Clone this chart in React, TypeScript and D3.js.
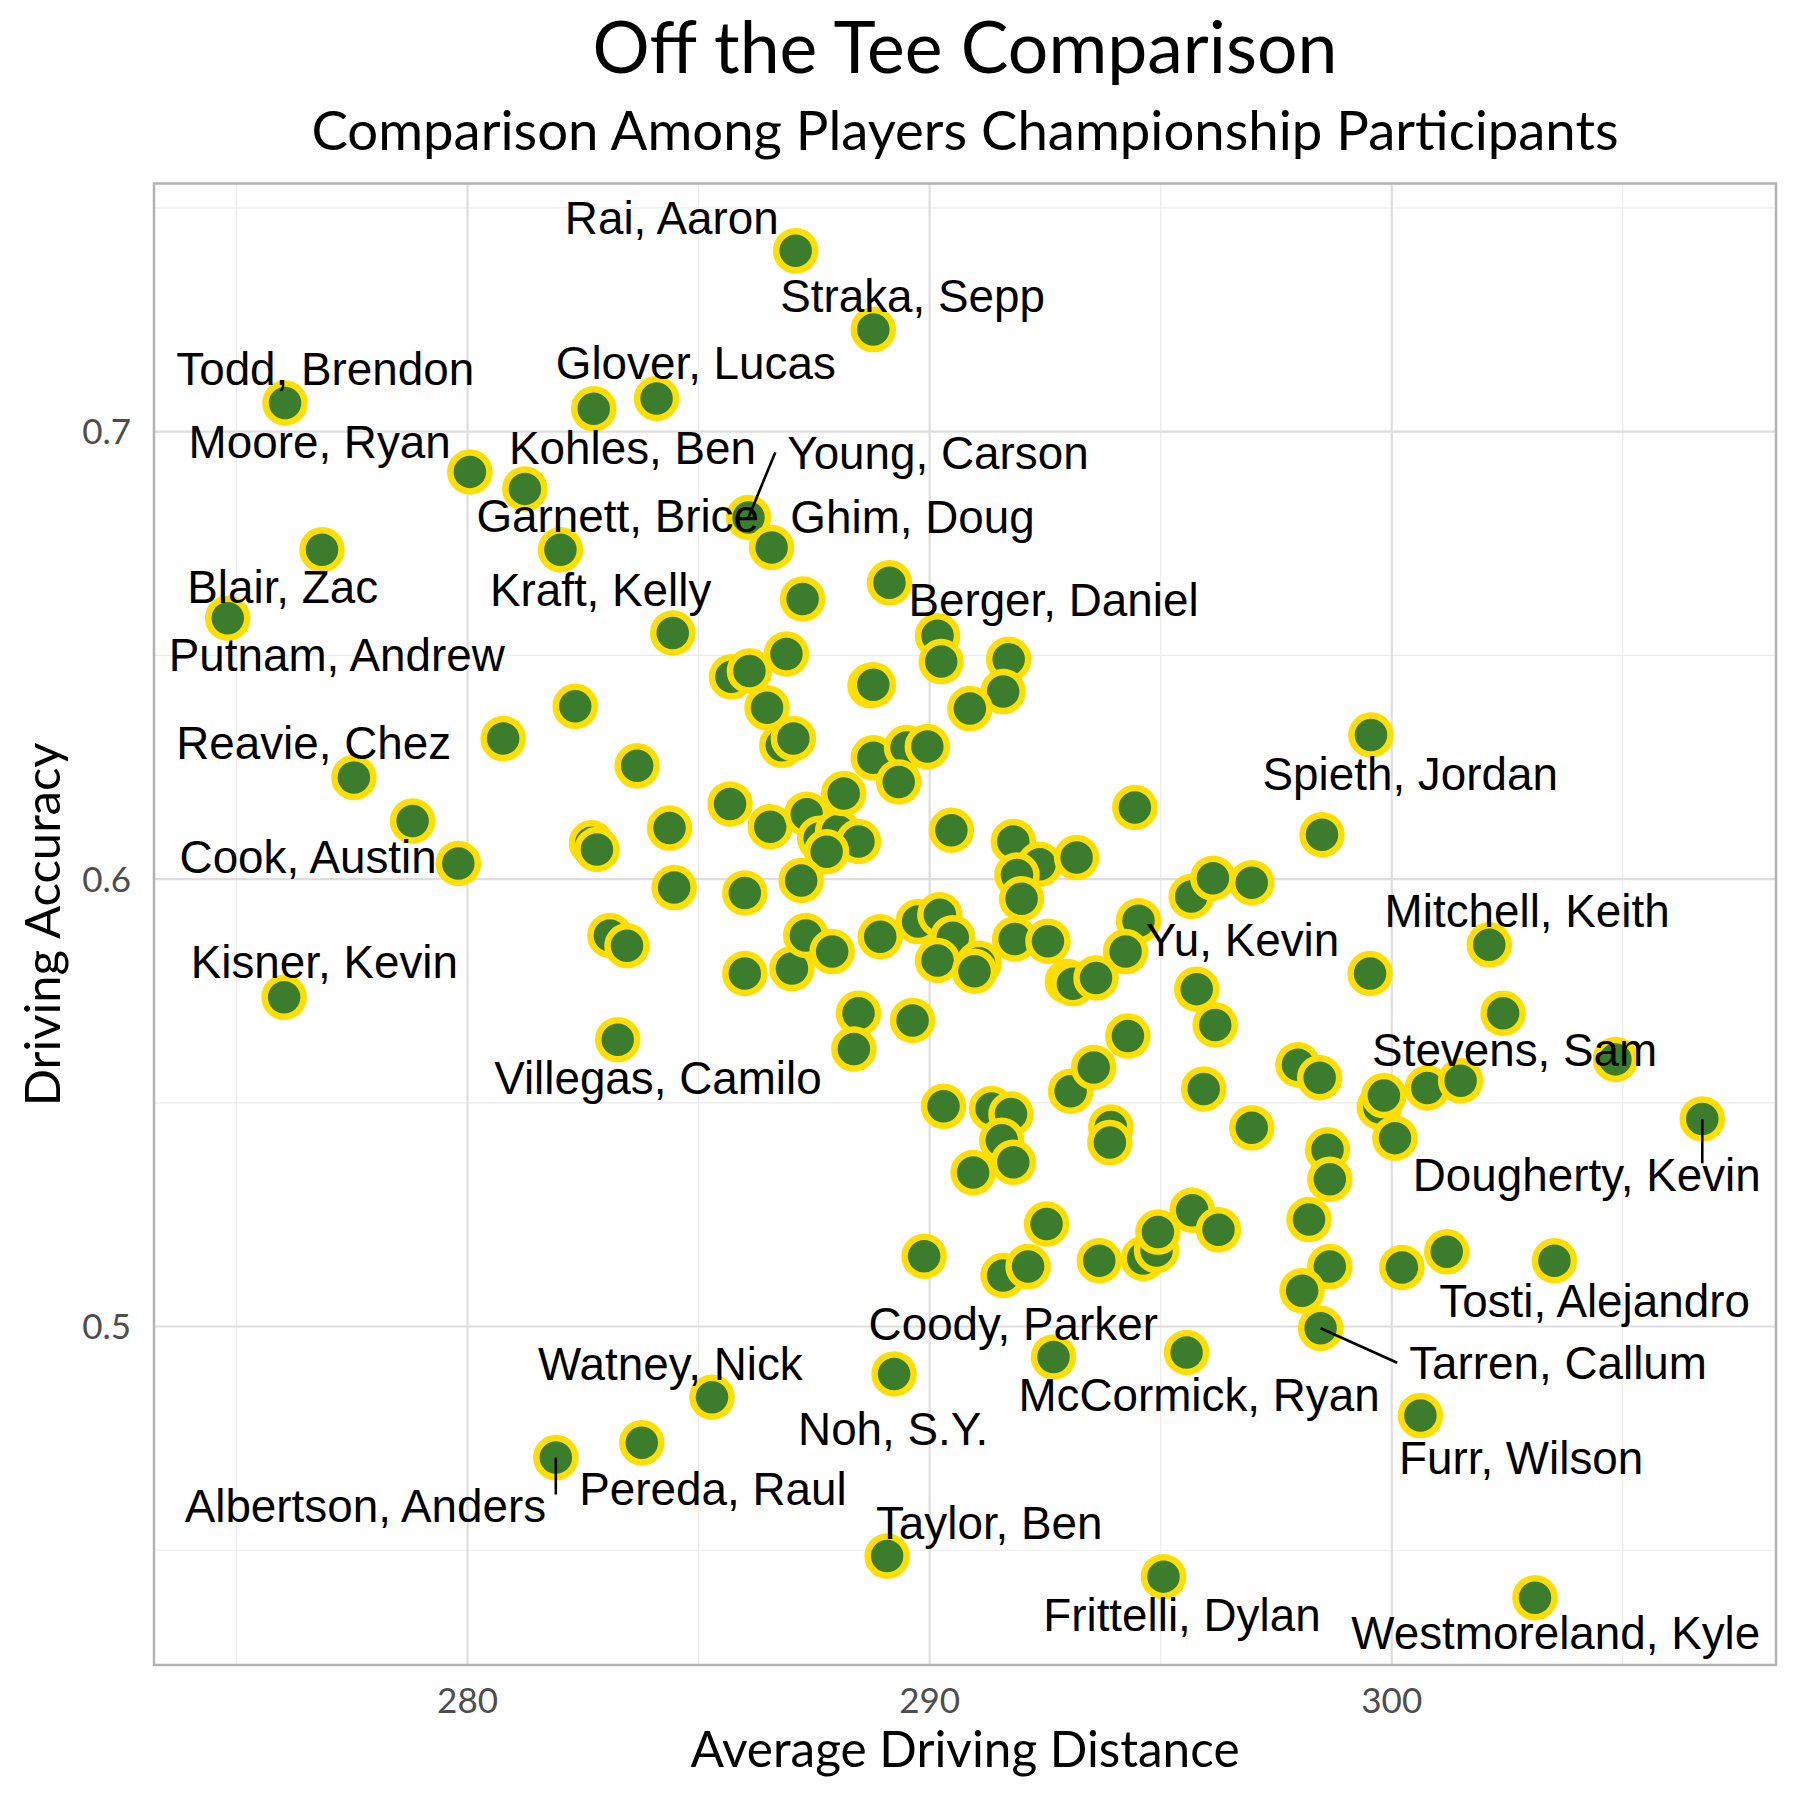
import React from "react";
import * as d3 from "d3";

// ---- data ----
const distance = [
  287.10, 288.78, 276.05, 282.73, 284.09, 280.05, 281.24, 276.85, 282.01, 286.08,
  286.58, 274.81, 284.44, 287.25, 289.13, 290.17, 290.25, 291.71, 291.59, 290.87,
  286.90, 285.71, 286.10, 286.48, 286.80, 287.05, 288.71, 288.78, 282.33, 280.77,
  283.67, 277.54, 278.81, 279.80, 276.03, 282.68, 282.80, 284.37, 284.47, 283.08,
  283.45, 283.25, 285.68, 286.55, 287.34, 287.62, 288.01, 288.46, 287.77, 288.14,
  288.78, 289.50, 289.95, 289.33, 290.47, 286.00, 287.22, 286.00, 287.02, 287.32,
  287.89, 288.93, 289.75, 290.22, 290.50, 290.17, 291.07, 290.97, 288.46, 289.63,
  288.36, 291.81, 292.38, 293.18, 291.89, 291.99, 294.52, 294.24, 291.84, 292.56,
  292.98, 293.10, 293.60, 294.44, 295.66, 296.13, 296.97, 295.78, 296.18, 298.49,
  299.55, 299.53, 302.11, 302.41, 304.84, 306.72, 297.97, 298.44, 299.73, 299.83,
  300.77, 301.49, 300.07, 298.61, 298.66, 298.21, 298.66, 298.06, 298.46, 300.22,
  301.19, 303.52, 300.62, 303.10, 295.06, 289.08, 295.56, 292.68, 289.23, 285.29,
  283.77, 281.91, 289.88, 291.59, 292.13, 292.53, 293.67, 294.62, 294.91, 294.94,
  295.68, 296.25, 290.30, 291.34, 291.76, 291.56, 290.94, 291.81, 293.05, 293.55,
  294.29, 293.92, 293.90, 295.93, 296.97,
];
const accuracy = [
  0.7404, 0.7228, 0.7064, 0.7051, 0.7074, 0.6910, 0.6872, 0.6736, 0.6736, 0.6808,
  0.6741, 0.6583, 0.6550, 0.6626, 0.6662, 0.6544, 0.6486, 0.6491, 0.6419, 0.6381,
  0.6503, 0.6452, 0.6465, 0.6383, 0.6299, 0.6314, 0.6432, 0.6434, 0.6386, 0.6314,
  0.6253, 0.6227, 0.6130, 0.6035, 0.5736, 0.6081, 0.6066, 0.6114, 0.5981, 0.5874,
  0.5851, 0.5641, 0.6168, 0.6117, 0.6145, 0.6091, 0.6107, 0.6084, 0.6061, 0.6191,
  0.6271, 0.6294, 0.6296, 0.6217, 0.6109, 0.5969, 0.5997, 0.5789, 0.5800, 0.5874,
  0.5838, 0.5871, 0.5905, 0.5920, 0.5869, 0.5818, 0.5812, 0.5794, 0.5700, 0.5684,
  0.5620, 0.6084, 0.6033, 0.6048, 0.6009, 0.5956, 0.5907, 0.5838, 0.5866, 0.5861,
  0.5771, 0.5766, 0.5779, 0.6160, 0.5961, 0.6002, 0.5992, 0.5754, 0.5674, 0.6099,
  0.6322, 0.5789, 0.5853, 0.5700, 0.5597, 0.5464, 0.5585, 0.5556, 0.5490, 0.5516,
  0.5533, 0.5549, 0.5421, 0.5395, 0.5329, 0.5239, 0.5134, 0.5080, 0.4996, 0.5132,
  0.5167, 0.5147, 0.4801, 0.4394, 0.4441, 0.4487, 0.4942, 0.4932, 0.4894, 0.4842,
  0.4740, 0.4707, 0.5157, 0.5114, 0.5134, 0.5229, 0.5147, 0.5152, 0.5170, 0.5211,
  0.5260, 0.5216, 0.5492, 0.5487, 0.5475, 0.5416, 0.5344, 0.5367, 0.5526, 0.5579,
  0.5649, 0.5446, 0.5411, 0.5531, 0.5444,
];

// labelled players: name, point index, repelled label position (data units), leader line
const labelNames = [
  "Rai, Aaron", "Straka, Sepp", "Todd, Brendon", "Glover, Lucas", "Moore, Ryan",
  "Kohles, Ben", "Young, Carson", "Garnett, Brice", "Ghim, Doug", "Blair, Zac",
  "Kraft, Kelly", "Berger, Daniel", "Putnam, Andrew", "Reavie, Chez", "Cook, Austin",
  "Kisner, Kevin", "Villegas, Camilo", "Spieth, Jordan", "Mitchell, Keith", "Yu, Kevin",
  "Stevens, Sam", "Dougherty, Kevin", "Tosti, Alejandro", "Tarren, Callum", "Furr, Wilson",
  "McCormick, Ryan", "Coody, Parker", "Watney, Nick", "Noh, S.Y.", "Pereda, Raul",
  "Albertson, Anders", "Taylor, Ben", "Frittelli, Dylan", "Westmoreland, Kyle",
];
const labelPoint = [
  0, 1, 2, 4, 5, 6, 9, 8, 10, 7,
  12, 15, 11, 31, 33, 34, 41, 90, 92, 87,
  94, 95, 111, 108, 112, 116, 117, 119, 118, 120,
  121, 115, 114, 113,
];
const labelDistance = [
  284.42, 289.63, 276.92, 284.94, 276.80, 283.57, 290.18, 283.25, 289.63, 276.00,
  282.88, 292.68, 277.17, 276.67, 276.55, 276.90, 284.12, 300.40, 302.93, 296.77,
  302.66, 304.22, 304.39, 303.60, 302.80, 295.83, 291.81, 284.39, 289.21, 285.31,
  277.79, 291.29, 295.46, 303.55,
];
const labelAccuracy = [
  0.7479, 0.7305, 0.7141, 0.7154, 0.6977, 0.6964, 0.6954, 0.6813, 0.6811, 0.6654,
  0.6647, 0.6624, 0.6501, 0.6306, 0.6050, 0.5815, 0.5556, 0.6237, 0.5930, 0.5864,
  0.5618, 0.5339, 0.5057, 0.4919, 0.4707, 0.4847, 0.5006, 0.4917, 0.4771, 0.4638,
  0.4599, 0.4563, 0.4356, 0.4315,
];
const labelLeader = [
  false, false, false, false, false, false, true, false, false, false,
  false, false, false, false, false, false, false, false, false, false,
  false, true, false, true, false, false, false, false, false, false,
  true, false, false, false,
];

const xTicks = [280, 290, 300];
const xMinorTicks = [275, 285, 295, 305];
const yTicks = [0.5, 0.6, 0.7];
const yMinorTicks = [0.45, 0.55, 0.65, 0.75];

const TITLE = "Off the Tee Comparison";
const SUBTITLE = "Comparison Among Players Championship Participants";
const X_TITLE = "Average Driving Distance";
const Y_TITLE = "Driving Accuracy";

// ---- layout ----
const W = 1800;
const H = 1800;
const PANEL = { left: 154, right: 1776, top: 183.5, bottom: 1665 };
const UI_FONT = "Lato, 'Open Sans', sans-serif";
const LABEL_FONT = "'Liberation Sans', Arial, sans-serif";
const LABEL_SIZE = 45.8;
const POINT_R = 19.5;

function expand(values: number[], mult: number): [number, number] {
  const [lo, hi] = d3.extent(values) as [number, number];
  const pad = (hi - lo) * mult;
  return [lo - pad, hi + pad];
}

let measureCtx: CanvasRenderingContext2D | null = null;
function textWidth(s: string, size: number, family: string) {
  if (!measureCtx) measureCtx = document.createElement("canvas").getContext("2d");
  if (!measureCtx) return s.length * size * 0.5;
  measureCtx.font = `${size}px ${family}`;
  return measureCtx.measureText(s).width;
}

export default function App() {
  const x = d3.scaleLinear().domain(expand(distance, 0.05)).range([PANEL.left, PANEL.right]);
  const y = d3.scaleLinear().domain(expand(accuracy, 0.05)).range([PANEL.bottom, PANEL.top]);
  const fmtY = d3.format(".1f");
  const cx = (PANEL.left + PANEL.right) / 2;
  const cy = (PANEL.top + PANEL.bottom) / 2;

  const labels = labelNames.map((name, i) => {
    const p = labelPoint[i];
    const px = x(distance[p]);
    const py = y(accuracy[p]);
    const lx = x(labelDistance[i]);
    const ly = y(labelAccuracy[i]);
    let seg: null | [number, number, number, number] = null;
    if (labelLeader[i]) {
      const w = textWidth(name, LABEL_SIZE, LABEL_FONT);
      const padX = 12;
      const bx0 = lx - w / 2 - padX;
      const bx1 = lx + w / 2 + padX;
      const halfH = LABEL_SIZE * 0.25;
      const inside = px >= bx0 && px <= bx1;
      const ex = Math.max(bx0, Math.min(bx1, px));
      const ey = inside ? (py < ly ? ly - halfH : ly + halfH) : ly;
      seg = [px, py, ex, ey];
    }
    return { name, lx, ly, seg };
  });

  return (
    <div style={{ position: "absolute", left: 0, top: 0, width: W, height: H, background: "#fff" }}>
      <svg width={W} height={H} viewBox={`0 0 ${W} ${H}`} style={{ display: "block" }}>
        <rect x={0} y={0} width={W} height={H} fill="#ffffff" />
        {/* minor grid */}
        <g stroke="#ececec" strokeWidth={1.2}>
          {xMinorTicks.map((t) => (
            <line key={`xm${t}`} x1={x(t)} x2={x(t)} y1={PANEL.top} y2={PANEL.bottom} />
          ))}
          {yMinorTicks.map((t) => (
            <line key={`ym${t}`} x1={PANEL.left} x2={PANEL.right} y1={y(t)} y2={y(t)} />
          ))}
        </g>
        {/* major grid */}
        <g stroke="#dedede" strokeWidth={2.2}>
          {xTicks.map((t) => (
            <line key={`xg${t}`} x1={x(t)} x2={x(t)} y1={PANEL.top} y2={PANEL.bottom} />
          ))}
          {yTicks.map((t) => (
            <line key={`yg${t}`} x1={PANEL.left} x2={PANEL.right} y1={y(t)} y2={y(t)} />
          ))}
        </g>
        {/* points */}
        <g>
          {distance.map((d, i) => (
            <circle
              key={`p${i}`}
              cx={x(d)}
              cy={y(accuracy[i])}
              r={POINT_R}
              fill="#3b7d2c"
              stroke="#ffde00"
              strokeWidth={6.5}
            />
          ))}
        </g>
        {/* leader segments */}
        <g stroke="#000" strokeWidth={2.6}>
          {labels.filter((l) => l.seg).map((l) => (
            <line key={`s${l.name}`} x1={l.seg![0]} y1={l.seg![1]} x2={l.seg![2]} y2={l.seg![3]} />
          ))}
        </g>
        {/* labels */}
        <g fontFamily={LABEL_FONT} fontSize={LABEL_SIZE} fill="#000" textAnchor="middle">
          {labels.map((l) => (
            <text key={`t${l.name}`} x={l.lx} y={l.ly} dy="0.36em">
              {l.name}
            </text>
          ))}
        </g>
        {/* panel border */}
        <rect
          x={PANEL.left}
          y={PANEL.top}
          width={PANEL.right - PANEL.left}
          height={PANEL.bottom - PANEL.top}
          fill="none"
          stroke="#b3b3b3"
          strokeWidth={2.5}
        />
        {/* axes */}
        <g fontFamily={UI_FONT} fontSize={35} fill="#4d4d4d">
          {xTicks.map((t) => (
            <text key={`xt${t}`} x={x(t)} y={1713} textAnchor="middle">
              {t}
            </text>
          ))}
          {yTicks.map((t) => (
            <text key={`yt${t}`} x={131} y={y(t)} dy="0.36em" textAnchor="end">
              {fmtY(t)}
            </text>
          ))}
        </g>
        <text x={cx} y={1767} textAnchor="middle" fontFamily={UI_FONT} fontSize={49.5} fill="#000">
          {X_TITLE}
        </text>
        <text
          transform={`translate(60, ${cy}) rotate(-90)`}
          textAnchor="middle"
          fontFamily={UI_FONT}
          fontSize={49}
          fill="#000"
        >
          {Y_TITLE}
        </text>
        <text x={cx} y={73} textAnchor="middle" fontFamily={UI_FONT} fontSize={71.5} fill="#000">
          {TITLE}
        </text>
        <text x={cx} y={150} textAnchor="middle" fontFamily={UI_FONT} fontSize={54.5} fill="#000">
          {SUBTITLE}
        </text>
      </svg>
    </div>
  );
}
